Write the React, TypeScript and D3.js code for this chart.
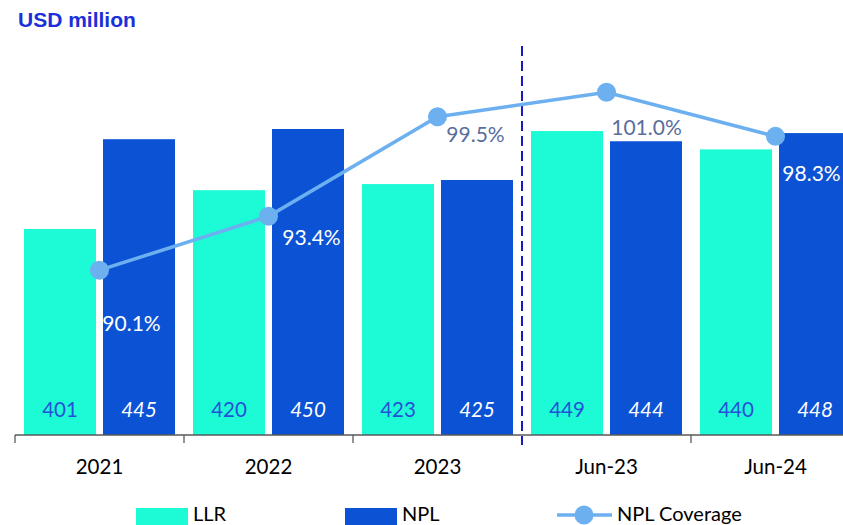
import React from "react";
import * as d3 from "d3";

const categories = ["2021", "2022", "2023", "Jun-23", "Jun-24"];
const llr = [401, 420, 423, 449, 440];
const npl = [445, 450, 425, 444, 448];
const coverage = [90.1, 93.4, 99.5, 101.0, 98.3];
const coverageLabels = ["90.1%", "93.4%", "99.5%", "101.0%", "98.3%"];
const seriesNames = ["LLR", "NPL", "NPL Coverage"];

// label layout (styling, not data)
const covLabelOffsets: [number, number][] = [[32, 52], [43, 20], [38, 17], [40, 34], [36, 36]];
const covLabelColors = ["#ffffff", "#ffffff", "#5a6e9c", "#5a6e9c", "#ffffff"];

const W = 843;
const H = 525;
const BASE = 435;
const TOP = 27;
const C_LLR = "#1cfbd6";
const C_NPL = "#0b53d4";
const C_LINE = "#6cb0f0";
const FONT = "Lato, 'Open Sans', sans-serif";

export default function App() {
  const x = d3.scaleBand<string>().domain(categories).range([15, 15 + 169 * 5]).padding(0);
  const inner = d3
    .scaleBand<string>()
    .domain(["LLR", "NPL"])
    .range([0, x.bandwidth()])
    .paddingInner(7 / 79)
    .paddingOuter(0.1139);
  const y = d3.scaleLinear().domain([300, 500]).range([BASE, TOP]);
  const y2 = d3.scaleLinear().domain([80, 105]).range([BASE, TOP]);
  const cx = (c: string) => (x(c) as number) + x.bandwidth() / 2;
  const line = d3
    .line<number>()
    .x((_, i) => cx(categories[i]))
    .y((d) => y2(d));

  const dividerX = x(categories[3]) as number;
  const tickXs = categories.map((c) => x(c) as number).filter((_, i) => i !== 3);

  return (
    <svg
      width={W}
      height={H}
      style={{ position: "absolute", left: 0, top: 0, background: "#fff" }}
      fontFamily={FONT}
    >
      <text x={18} y={27} fontFamily="'Liberation Sans', Arial, sans-serif" fontWeight="bold" fontSize={21} fill="#1a30d8">
        USD million
      </text>

      {categories.map((c, i) => {
        const x0 = x(c) as number;
        const bx1 = x0 + (inner("LLR") as number);
        const bx2 = x0 + (inner("NPL") as number);
        const bw = inner.bandwidth();
        return (
          <g key={c}>
            <rect x={bx1} y={y(llr[i])} width={bw} height={BASE - y(llr[i])} fill={C_LLR} />
            <rect x={bx2} y={y(npl[i])} width={bw} height={BASE - y(npl[i])} fill={C_NPL} />
            <text x={bx1 + bw / 2} y={409} textAnchor="middle" dominantBaseline="central" fontSize={20.5} fill="#2451d8">
              {llr[i]}
            </text>
            <text x={bx2 + bw / 2} y={409} textAnchor="middle" dominantBaseline="central" fontSize={20.5} fontStyle="italic" fill="#ffffff">
              {npl[i]}
            </text>
            <text x={cx(c)} y={466} textAnchor="middle" dominantBaseline="central" fontSize={20.5} fill="#000">
              {c}
            </text>
          </g>
        );
      })}

      {/* axis */}
      <line x1={15} x2={W} y1={BASE} y2={BASE} stroke="#595959" strokeWidth={1.3} />
      {tickXs.map((tx, i) => (
        <line key={i} x1={tx} x2={tx} y1={BASE} y2={443} stroke="#595959" strokeWidth={1.3} />
      ))}

      {/* divider */}
      <line x1={dividerX} x2={dividerX} y1={46} y2={445} stroke="#1a1ac4" strokeWidth={2} strokeDasharray="10,5" />

      {/* coverage line */}
      <path d={line(coverage) || ""} fill="none" stroke={C_LINE} strokeWidth={3.5} />
      {coverage.map((v, i) => (
        <circle key={i} cx={cx(categories[i])} cy={y2(v)} r={9.5} fill={C_LINE} />
      ))}
      {coverage.map((v, i) => (
        <text
          key={"l" + i}
          x={cx(categories[i]) + covLabelOffsets[i][0]}
          y={y2(v) + covLabelOffsets[i][1]}
          textAnchor="middle"
          dominantBaseline="central"
          fontSize={21}
          fill={covLabelColors[i]}
        >
          {coverageLabels[i]}
        </text>
      ))}

      {/* legend */}
      <rect x={136} y={508} width={52} height={17} fill={C_LLR} />
      <text x={193} y={521} fontSize={20} fill="#000">{seriesNames[0]}</text>
      <rect x={345} y={508} width={52} height={17} fill={C_NPL} />
      <text x={402} y={521} fontSize={20} fill="#000">{seriesNames[1]}</text>
      <line x1={557} x2={612} y1={515} y2={515} stroke={C_LINE} strokeWidth={3.5} />
      <circle cx={584} cy={515} r={9.5} fill={C_LINE} />
      <text x={617} y={521} fontSize={20} fill="#000">{seriesNames[2]}</text>
    </svg>
  );
}
